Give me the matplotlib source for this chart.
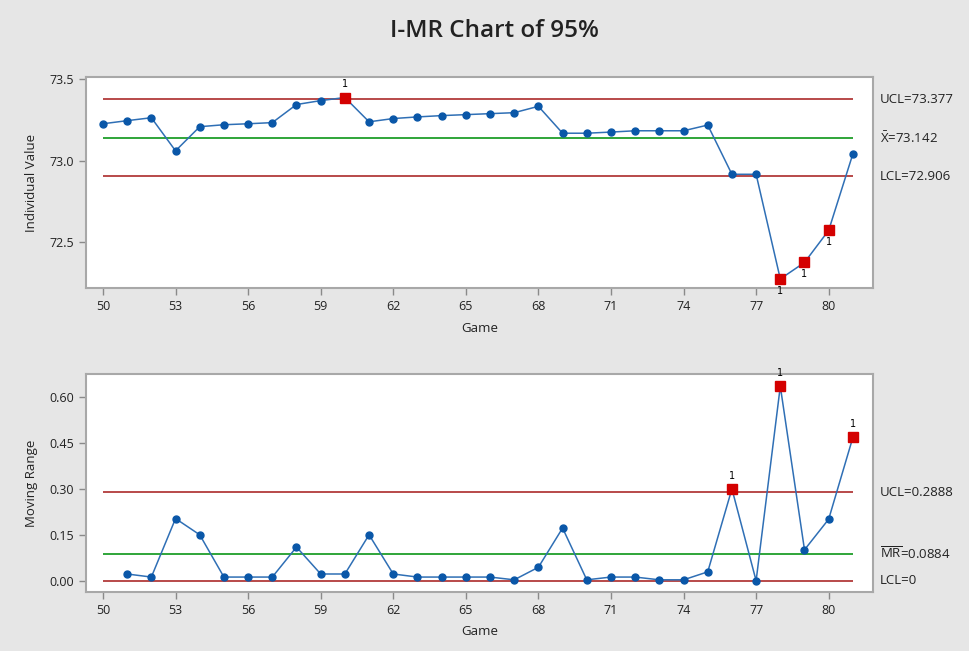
import numpy as np
import matplotlib
matplotlib.use("Agg")
import matplotlib.pyplot as plt

plt.rcParams['font.family'] = ['Open Sans', 'DejaVu Sans']
plt.rcParams['mathtext.fontset'] = 'custom'
plt.rcParams['mathtext.rm'] = 'Open Sans'

# data
games = list(range(50, 82))
individual = [73.228, 73.247, 73.265, 73.062, 73.210, 73.222, 73.228, 73.235,
              73.346, 73.370, 73.389, 73.240, 73.260, 73.270, 73.278, 73.284,
              73.290, 73.296, 73.335, 73.170, 73.170, 73.177, 73.185, 73.185,
              73.185, 73.220, 72.918, 72.918, 72.276, 72.377, 72.574, 73.043]
mr_games = list(range(51, 82))
moving_range = [0.022, 0.012, 0.203, 0.150, 0.012, 0.012, 0.012, 0.110,
                0.022, 0.022, 0.150, 0.022, 0.012, 0.012, 0.012, 0.012,
                0.003, 0.044, 0.172, 0.003, 0.012, 0.012, 0.003, 0.003,
                0.029, 0.300, 0.000, 0.635, 0.101, 0.201, 0.468]
i_ucl, i_center, i_lcl = 73.377, 73.142, 72.906
mr_ucl, mr_center, mr_lcl = 0.2888, 0.0884, 0.0
x_ticks = list(range(50, 81, 3))
i_ticks = [72.5, 73.0, 73.5]
mr_ticks = [0.00, 0.15, 0.30, 0.45, 0.60]

bg = '#e6e6e6'
line_blue = '#2f6fb5'
dot_blue = '#0a57a8'
red_line = '#b23a3a'
green_line = '#1f9e2a'
bad_red = '#d40000'

fig = plt.figure(figsize=(9.7, 6.51), dpi=100, facecolor=bg)
ax1 = fig.add_axes([0.0887, 0.557, 0.811, 0.325])
ax2 = fig.add_axes([0.0887, 0.091, 0.811, 0.334])

fig.text(0.51, 0.952, 'I-MR Chart of 95%', ha='center', va='center',
         fontsize=17.5, fontweight='semibold', color='#222222')


def style(ax):
    ax.set_facecolor('white')
    for s in ax.spines.values():
        s.set_color('#a8a8a8')
        s.set_linewidth(1.5)
    ax.tick_params(colors='#8a8a8a', labelcolor='#222222', labelsize=9,
                   length=5, width=1)
    ax.set_xlim(49.3, 81.82)
    ax.set_xticks(x_ticks)


def draw(ax, xs, ys, ucl, center, lcl, labels):
    x0, x1 = games[0], games[-1]
    ax.hlines([ucl, lcl], x0, x1, color=red_line, lw=1.3, zorder=1)
    ax.hlines(center, x0, x1, color=green_line, lw=1.3, zorder=1)
    ax.plot(xs, ys, color=line_blue, lw=1.1, marker='o', ms=5,
            mfc=dot_blue, mec=dot_blue, zorder=3)
    for x, y in zip(xs, ys):
        if y > ucl:
            ax.plot(x, y, 's', ms=7.5, color=bad_red, zorder=4)
            ax.annotate('1', (x, y), xytext=(0, 6), textcoords='offset points',
                        ha='center', va='bottom', fontsize=7,
                        family='DejaVu Sans')
        elif y < lcl:
            ax.plot(x, y, 's', ms=7.5, color=bad_red, zorder=4)
            ax.annotate('1', (x, y), xytext=(0, -5), textcoords='offset points',
                        ha='center', va='top', fontsize=7,
                        family='DejaVu Sans')
    tr = ax.get_yaxis_transform()
    for val, lab in zip([ucl, center, lcl], labels):
        ax.text(1.009, val, lab, transform=tr, va='center', ha='left',
                fontsize=9.5, color='#222222')


style(ax1)
draw(ax1, games, individual, i_ucl, i_center, i_lcl,
     ['UCL=73.377', r'$\bar{\mathrm{X}}$=73.142', 'LCL=72.906'])
ax1.set_ylim(72.218, 73.516)
ax1.set_yticks(i_ticks)
ax1.set_yticklabels(['72.5', '73.0', '73.5'])
ax1.set_xlabel('Game', fontsize=9.5, color='#222222', labelpad=6)
ax1.set_ylabel('Individual Value', fontsize=9.5, color='#222222', labelpad=8)

style(ax2)
draw(ax2, mr_games, moving_range, mr_ucl, mr_center, mr_lcl,
     ['UCL=0.2888', r'$\overline{\mathrm{MR}}$=0.0884', 'LCL=0'])
ax2.set_ylim(-0.036, 0.674)
ax2.set_yticks(mr_ticks)
ax2.set_yticklabels([f'{t:.2f}' for t in mr_ticks])
ax2.set_xlabel('Game', fontsize=9.5, color='#222222', labelpad=6)
ax2.set_ylabel('Moving Range', fontsize=9.5, color='#222222', labelpad=8)

fig.savefig('out.png', dpi=100, facecolor=bg)
